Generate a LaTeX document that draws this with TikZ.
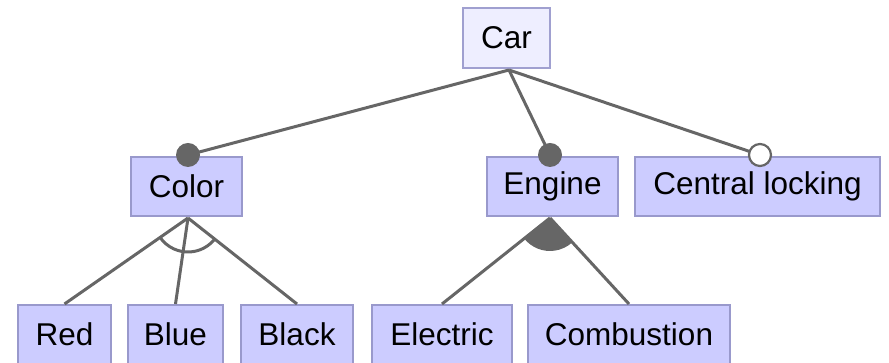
\documentclass[tikz,border=0pt]{standalone}
\usepackage{fontspec}
\setmainfont{Liberation Sans}
\usetikzlibrary{calc}
\definecolor{featfill}{RGB}{204,204,255}
\definecolor{featborder}{RGB}{153,153,204}
\definecolor{rootfill}{RGB}{238,238,255}
\definecolor{rootborder}{RGB}{160,160,208}
\definecolor{edgegray}{RGB}{102,102,102}
\tikzset{
  feature/.style={draw=featborder, fill=featfill, line width=2pt, inner sep=0pt,
    minimum height=59pt, font=\fontsize{31.5}{33}\selectfont, text=black},
  rootfeature/.style={feature, draw=rootborder, fill=rootfill},
  edge/.style={draw=edgegray, line width=3pt},
  mandatory/.style={fill=edgegray},
  optional/.style={draw=edgegray, fill=white, line width=2.2pt},
}
\begin{document}
\begin{tikzpicture}[x=1pt,y=1pt]
\useasboundingbox (0,0) rectangle (889,363);
% feature nodes
\node[rootfeature, minimum width=87pt, minimum height=60pt] (car) at (506.5,325) {Car};
\node[feature, minimum width=111pt] (color) at (186.5,176.5) {Color};
\node[feature, minimum width=131pt] (engine) at (552.5,176.5) {Engine};
\node[feature, minimum width=245pt] (lock) at (757.5,176.5) {Central locking};
\node[feature, minimum width=93pt] (red) at (64.5,28.5) {Red};
\node[feature, minimum width=95pt] (blue) at (175.5,28.5) {Blue};
\node[feature, minimum width=112pt] (black) at (297,28.5) {Black};
\node[feature, minimum width=140pt] (electric) at (442,28.5) {Electric};
\node[feature, minimum width=202pt] (combustion) at (629,28.5) {Combustion};
% attachment points
\coordinate (carb) at ($(car.south)+(2.5,-1)$);
\coordinate (colordot) at ($(color.north)+(1.5,1)$);
\coordinate (enginedot) at ($(engine.north)+(-2.5,1)$);
\coordinate (lockdot) at ($(lock.north)+(2.5,1)$);
\coordinate (colorb) at ($(color.south)+(1.5,-1)$);
\coordinate (engineb) at ($(engine.south)+(-2.5,-1)$);
% edges from the root
\draw[edge] (carb) -- (colordot);
\draw[edge] (carb) -- (enginedot);
\draw[edge] (carb) -- (lockdot);
% and-group under Color
\draw[edge] (colorb) -- (red.north);
\draw[edge] (colorb) -- (blue.north);
\draw[edge] (colorb) -- (black.north);
\draw[edge] let \p1=($(red.north)-(colorb)$), \p2=($(black.north)-(colorb)$),
  \n1={atan2(\y1,\x1)}, \n2={atan2(\y2,\x2)} in
  ($(colorb)+(\n1:34pt)$) arc[start angle=\n1, end angle=\n2, radius=34pt];
% or-group under Engine
\draw[edge] (engineb) -- (electric.north);
\draw[edge] (engineb) -- (combustion.north);
\fill[edgegray] let \p1=($(electric.north)-(engineb)$), \p2=($(combustion.north)-(engineb)$),
  \n1={atan2(\y1,\x1)}, \n2={atan2(\y2,\x2)} in
  (engineb) -- ($(engineb)+(\n1:33pt)$) arc[start angle=\n1, end angle=\n2, radius=33pt] -- cycle;
% mandatory / optional markers
\fill[mandatory] (colordot) circle[radius=12pt];
\fill[mandatory] (enginedot) circle[radius=12pt];
\filldraw[optional] (lockdot) circle[radius=11pt];
\end{tikzpicture}
\end{document}
